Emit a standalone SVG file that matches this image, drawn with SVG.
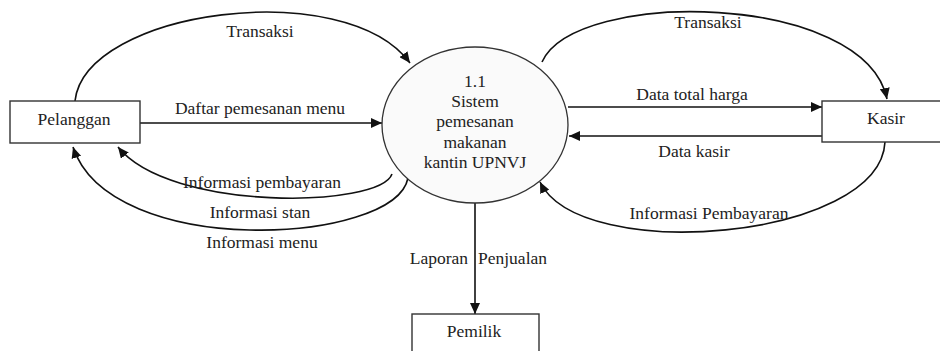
<svg xmlns="http://www.w3.org/2000/svg" width="940" height="351" viewBox="0 0 940 351">
<defs>
<marker id="ah" markerUnits="userSpaceOnUse" markerWidth="12" markerHeight="10" refX="11" refY="5" orient="auto">
<path d="M0,0 L11,5 L0,10 Z" fill="#111"/>
</marker>
<style>
.box{fill:#fff;stroke:#333;stroke-width:1.4}
.proc{fill:#fafafa;stroke:#333;stroke-width:1.3}
.flow{fill:none;stroke:#111;stroke-width:1.6;marker-end:url(#ah)}
</style>
</defs>
<rect width="940" height="351" fill="#fff"/>
<g font-family="Liberation Serif, Times New Roman, serif" font-size="17.5" fill="#222" text-anchor="middle">
<g id="connectors">
<path class="flow" d="M75,101 C85,10 345,-25 410,63"/>
<path class="flow" d="M140,123 L382,123"/>
<path class="flow" d="M392,174 C380,208 170,212 118,147"/>
<path class="flow" d="M408,178 C395,245 110,260 73,147"/>
<path class="flow" d="M542,62 C575,-12 865,-8 887,99"/>
<path class="flow" d="M568,107 L822,107"/>
<path class="flow" d="M822,136 L569,136"/>
<path class="flow" d="M885,142 C880,240 580,265 540,182"/>
<path class="flow" d="M475,203 L475,314"/>
<text x="260" y="37">Transaksi</text>
<text x="260" y="114">Daftar pemesanan menu</text>
<text x="262" y="188">Informasi pembayaran</text>
<text x="260" y="218">Informasi stan</text>
<text x="262" y="248">Informasi menu</text>
<text x="708" y="28">Transaksi</text>
<text x="692" y="100">Data total harga</text>
<text x="694" y="157">Data kasir</text>
<text x="709" y="219">Informasi Pembayaran</text>
<text y="264"><tspan x="468" text-anchor="end">Laporan</tspan><tspan x="478" text-anchor="start">Penjualan</tspan></text>
</g>
<g id="pelanggan">
<rect class="box" x="10" y="101" width="130" height="42"/>
<text x="74" y="125">Pelanggan</text>
</g>
<g id="proses">
<ellipse class="proc" cx="475" cy="125" rx="93" ry="78"/>
<text x="475" y="87">1.1</text>
<text x="475" y="107">Sistem</text>
<text x="475" y="127">pemesanan</text>
<text x="475" y="148">makanan</text>
<text x="475" y="168">kantin UPNVJ</text>
</g>
<g id="kasir">
<rect class="box" x="822" y="101" width="140" height="41"/>
<text x="886" y="124">Kasir</text>
</g>
<g id="pemilik">
<rect class="box" x="412" y="314" width="127" height="50"/>
<text x="474" y="337">Pemilik</text>
</g>
</g>
</svg>
